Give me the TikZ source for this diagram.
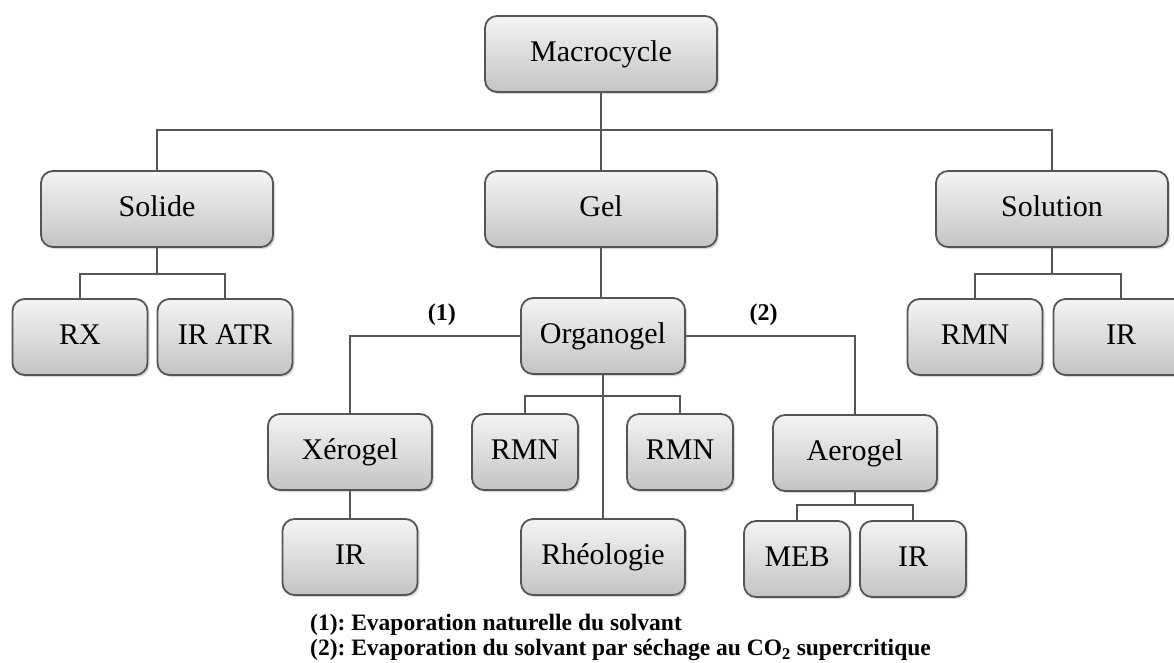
\documentclass[tikz,border=0pt]{standalone}
\usepackage{fontspec}
\setmainfont{Liberation Serif}
\usetikzlibrary{positioning,shadows}
\definecolor{boxline}{HTML}{555555}
\definecolor{boxtop}{HTML}{F4F4F4}
\definecolor{boxbot}{HTML}{C4C4C4}

\begin{document}
\begin{tikzpicture}[x=1pt,y=-1pt, every node/.style={font=\fontsize{30}{33}\selectfont,align=center},
 box/.style={draw=boxline,line width=1.8pt,rounded corners=12pt,top color=boxtop,bottom color=boxbot,
  minimum height=76pt,inner sep=0pt,text height=20pt,text depth=6pt,
  drop shadow={opacity=0.3,shadow xshift=2pt,shadow yshift=-2pt}},
 wide/.style={box,minimum width=232pt}, mid/.style={box,minimum width=164pt}, small/.style={box,minimum width=135pt},
 tiny/.style={box,minimum width=106pt},
 link/.style={draw=boxline,line width=1.8pt},
 tag/.style={font=\fontsize{24}{26}\selectfont\bfseries,inner sep=0pt},
 note/.style={font=\fontsize{23.5}{25}\selectfont\bfseries\frenchspacing,inner sep=0pt}]
\useasboundingbox (0,0) rectangle (1174,662);
\node[wide] (macro) at (601,54) {Macrocycle};
\node[wide] (solide) at (157,209) {Solide};
\node[wide] (gel) at (601,209) {Gel};
\node[wide] (solution) at (1052,209) {Solution};
\node[small] (rx) at (80,337) {RX};
\node[small] (iratr) at (225,337) {IR ATR};
\node[small] (rmnsol) at (975,337) {RMN};
\node[small] (irsol) at (1121,337) {IR};
\node[mid] (organo) at (603,336) {Organogel};
\node[mid] (xero) at (350,452) {Xérogel};
\node[tiny] (rmna) at (525,452) {RMN};
\node[tiny] (rmnb) at (680,452) {RMN};
\node[mid] (aero) at (855,453) {Aerogel};
\node[small] (irxero) at (350,557) {IR};
\node[mid] (rheo) at (603,557) {Rhéologie};
\node[tiny] (meb) at (797,559) {MEB};
\node[tiny] (iraero) at (913,559) {IR};
% tree
\draw[link] (macro.south) -- ++(0,37) coordinate (top);
\draw[link] (solide.north) |- (top) -| (solution.north);
\draw[link] (top) -- (gel.north);
\draw[link] (solide.south) -- ++(0,26) coordinate (sol);
\draw[link] (rx.north) |- (sol) -| (iratr.north);
\draw[link] (solution.south) -- ++(0,26) coordinate (liq);
\draw[link] (rmnsol.north) |- (liq) -| (irsol.north);
\draw[link] (gel.south) -- (gel.south |- organo.north);
\draw[link] (organo.west) -| (xero.north) node[tag,pos=0.23,above=9pt] (n1) {(1)};
\draw[link] (organo.east) -| (aero.north) node[tag,pos=0.23,above=9pt] (n2) {(2)};
\draw[link] (organo.south) -- (rheo.north);
\draw[link] (organo.south) ++(0,21) coordinate (org);
\draw[link] (rmna.north) |- (org) -| (rmnb.north);
\draw[link] (xero.south) -- (irxero.north);
\draw[link] (aero.south) -- ++(0,13) coordinate (aer);
\draw[link] (meb.north) |- (aer) -| (iraero.north);
% legend
\node[note,anchor=west] (leg1) at (310,625) {(1): Evaporation naturelle du solvant};
\node[note,anchor=west] (leg2) at (310,650) {(2): Evaporation du solvant par séchage au CO\textsubscript{2} supercritique};
\end{tikzpicture}
\end{document}
